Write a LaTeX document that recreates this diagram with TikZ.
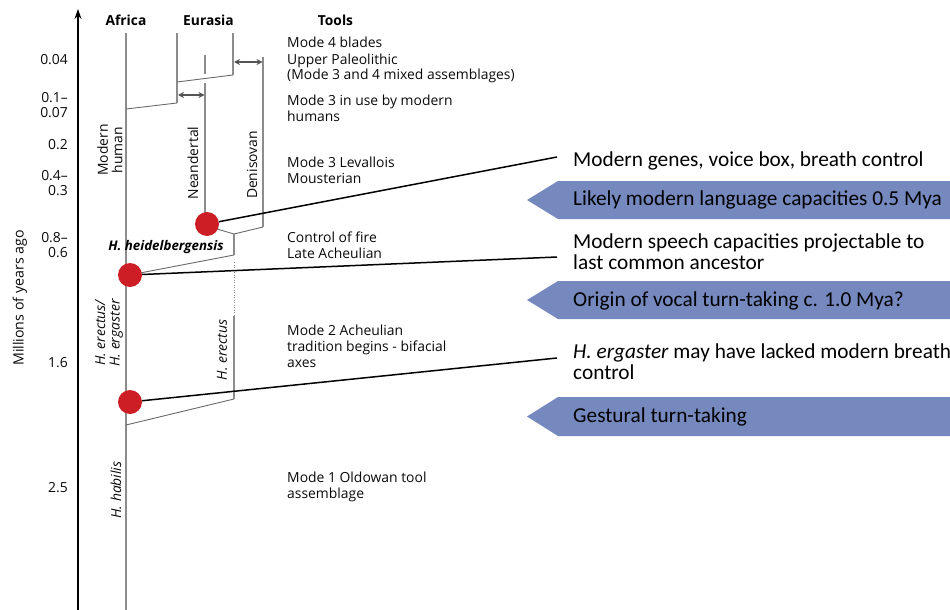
\documentclass[tikz,border=0pt]{standalone}
\usepackage{fontspec}
\setmainfont{Open Sans}
\newfontfamily\calfont{Carlito}
\usetikzlibrary{arrows.meta}
\definecolor{lingray}{RGB}{140,140,140}
\definecolor{thingray}{RGB}{105,105,105}
\definecolor{arrgray}{RGB}{85,85,85}
\definecolor{dotred}{RGB}{204,30,36}
\definecolor{calloutblue}{RGB}{117,137,191}
\definecolor{txtdark}{RGB}{10,10,10}
\begin{document}
\begin{tikzpicture}[x=1pt,y=-1pt,
  lineage/.style={draw=lingray, line width=1.5pt},
  thinline/.style={draw=lingray, line width=1.1pt},
  branch/.style={draw=thingray, line width=0.9pt},
  dotted line/.style={draw=lingray, line width=1pt, dash pattern=on 1pt off 1.5pt},
  migr/.style={draw=arrgray, line width=1.1pt, {Stealth[length=6pt,width=6pt]}-{Stealth[length=6pt,width=6pt]}},
  axisline/.style={draw=black, line width=1.3pt, -{Stealth[length=10pt,width=7pt]}},
  conn/.style={draw=black, line width=1.5pt},
  dot/.style={circle, fill=dotred, draw=none, minimum size=24pt, inner sep=0pt},
  tool/.style={anchor=base west, inner sep=0pt, text=txtdark, font=\fontsize{13.9}{16}\selectfont},
  tick/.style={anchor=base east, inner sep=0pt, text=txtdark, font=\fontsize{13.9}{16}\selectfont},
  hdr/.style={anchor=base, inner sep=0pt, text=black, font=\bfseries\fontsize{13.8}{16}\selectfont},
  rlab/.style={rotate=90, inner sep=0pt, align=center, text=txtdark, font=\fontsize{13.9}{14.5}\selectfont},
  ilab/.style={rotate=90, inner sep=0pt, align=center, text=txtdark, font=\itshape\fontsize{13.9}{14.5}\selectfont},
  callout/.style={anchor=base west, inner sep=0pt, text=black, font=\calfont\fontsize{21.3}{21}\selectfont},
  bluearrow/.style={fill=calloutblue, draw=none}
]
\useasboundingbox (0,0) rectangle (950,610);

% axis
\coordinate (ax0) at (78,610);
\coordinate (ax1) at (78,9);
\draw[axisline] (ax0) -- (ax1);
\node[rlab, font=\fontsize{14.2}{16}\selectfont] (ylab) at (20,298) {Millions of years ago};

% tick labels
\node[tick] (t1) at (68,65) {0.04};
\node[tick] (t2a) at (68,102) {0.1–};
\node[tick] (t2b) at (68,117) {0.07};
\node[tick] (t3) at (68,149) {0.2};
\node[tick] (t4a) at (68,180) {0.4–};
\node[tick] (t4b) at (68,195) {0.3};
\node[tick] (t5a) at (68,242) {0.8–};
\node[tick] (t5b) at (68,257) {0.6};
\node[tick] (t6) at (68,367) {1.6};
\node[tick] (t7) at (68,492) {2.5};

% headers
\node[hdr] (hAf) at (126,26) {Africa};
\node[hdr] (hEu) at (208.5,26) {Eurasia};
\node[hdr] (hTo) at (335.5,26) {Tools};

% lineages
\draw[lineage] (126,33) -- (126,610);
\draw[branch] (126,109) -- (177,103);
\draw[thinline] (177,103) -- (177,33);
\draw[branch] (177,82) -- (233,75);
\draw[thinline] (233,75) -- (233,33);
\draw[thinline] (205,55) -- (205,74);
\draw[thinline] (205,83) -- (205,214);
\draw[thinline] (263,57) -- (263,227);
\draw[branch] (263,227) -- (234,234);
\draw[branch] (217,229) -- (234,234);
\draw[thinline] (234,234) -- (234,255);
\draw[branch] (234,255) -- (140,273);
\draw[dotted line] (234,262) -- (234,316);
\draw[thinline] (234,316) -- (234,399);
\draw[branch] (234,399) -- (126,425);

% gene flow arrows
\coordinate (m1a) at (178,95);
\coordinate (m1b) at (204.5,95);
\draw[migr] (m1a) -- (m1b);
\coordinate (m2a) at (234,62);
\coordinate (m2b) at (262.5,62);
\draw[migr] (m2a) -- (m2b);

% lineage labels
\node[rlab] (lMH) at (110,150) {Modern\\human};
\node[rlab] (lNe) at (193,163) {Neandertal};
\node[rlab] (lDe) at (252,165) {Denisovan};
\node[anchor=base, inner sep=0pt, text=black, font=\bfseries\itshape\fontsize{13.3}{16}\selectfont] (lHh) at (166,250) {H. heidelbergensis};
\node[ilab] (lEr) at (109,333) {H. erectus/\\H. ergaster};
\node[ilab] (lE2) at (222,350) {H. erectus};
\node[ilab] (lHa) at (116,490) {H. habilis};

% tools
\node[tool] (o1) at (287,48) {Mode 4 blades};
\node[tool] (o2) at (287,64) {Upper Paleolithic};
\node[tool] (o3) at (287,80) {(Mode 3 and 4 mixed assemblages)};
\node[tool] (o4) at (287,105) {Mode 3 in use by modern};
\node[tool] (o5) at (287,121) {humans};
\node[tool] (o6) at (287,167) {Mode 3 Levallois};
\node[tool] (o7) at (287,183) {Mousterian};
\node[tool] (o8) at (287,242) {Control of fire};
\node[tool] (o9) at (287,258) {Late Acheulian};
\node[tool] (o10) at (287,335) {Mode 2 Acheulian};
\node[tool] (o11) at (287,351) {tradition begins - bifacial};
\node[tool] (o12) at (287,367) {axes};
\node[tool] (o13) at (287,482) {Mode 1 Oldowan tool};
\node[tool] (o14) at (287,498) {assemblage};

% blue arrows
\path[bluearrow] (527,200) -- (558,181) -- (955,181) -- (955,219) -- (558,219) -- cycle;
\path[bluearrow] (527,300) -- (558,281) -- (955,281) -- (955,319) -- (558,319) -- cycle;
\path[bluearrow] (527,416.5) -- (558,397) -- (955,397) -- (955,436) -- (558,436) -- cycle;

% callout texts
\node[callout] (c1) at (573,166) {Modern genes, voice box, breath control};
\node[callout] (c2) at (573,205) {Likely modern language capacities 0.5 Mya};
\node[callout] (c3a) at (573,248) {Modern speech capacities projectable to};
\node[callout] (c3b) at (573,269) {last common ancestor};
\node[callout] (c4) at (573,306) {Origin of vocal turn-taking c. 1.0 Mya?};
\node[callout] (c5a) at (573,358) {\textit{H. ergaster} may have lacked modern breath};
\node[callout] (c5b) at (573,379) {control};
\node[callout] (c6) at (573,422) {Gestural turn-taking};

% dots
\node[dot] (d1) at (207,224) {};
\node[dot] (d2) at (130,275) {};
\node[dot] (d3) at (130,402) {};

% connectors
\coordinate (e1) at (557,157);
\coordinate (e2) at (557,257);
\coordinate (e3) at (557,358);
\draw[conn] (d1) -- (e1);
\draw[conn] (d2) -- (e2);
\draw[conn] (d3) -- (e3);
\end{tikzpicture}
\end{document}
